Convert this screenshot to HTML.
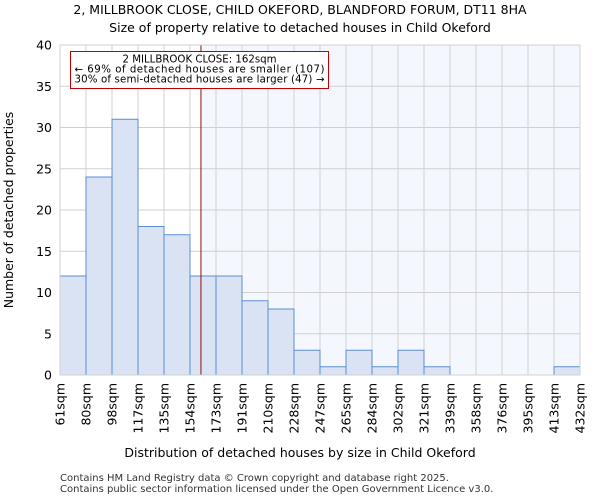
<!DOCTYPE html>
<html><head><meta charset="utf-8"><style>
body{margin:0;background:#fff;font-family:"DejaVu Sans","Liberation Sans",sans-serif}
</style></head><body>
<svg id="c" width="600" height="500" xmlns="http://www.w3.org/2000/svg" font-family="DejaVu Sans, Liberation Sans, sans-serif">
<text x="300" y="14" font-size="12.5" text-anchor="middle">2, MILLBROOK CLOSE, CHILD OKEFORD, BLANDFORD FORUM, DT11 8HA</text>
<text x="300" y="32" font-size="12.5" text-anchor="middle">Size of property relative to detached houses in Child Okeford</text>
<g id="plot"></g>
<text x="300" y="457" font-size="12.5" text-anchor="middle">Distribution of detached houses by size in Child Okeford</text>
<text transform="translate(13,210) rotate(-90)" font-size="12.5" text-anchor="middle">Number of detached properties</text>
<text x="60" y="481" font-size="10" fill="#333">Contains HM Land Registry data © Crown copyright and database right 2025.</text>
<text x="60" y="492" font-size="10" fill="#333">Contains public sector information licensed under the Open Government Licence v3.0.</text>
</svg>
<script>
const binEdges=[61,80,98,117,135,154,173,191,210,228,247,265,284,302,321,339,358,376,395,413,432];
const counts=[12,24,31,18,17,12,12,9,8,3,1,3,1,3,1,0,0,0,0,1];
const yTicks=[0,5,10,15,20,25,30,35,40];
const propertySize=162;
const NS="http://www.w3.org/2000/svg";
const L=60,R=580,T=45,B=375,ymax=40;
const g=document.getElementById('plot');
const bw=(R-L)/counts.length;
function xIdx(i){return L+i*bw;}
function xVal(v){let i=0;while(i<binEdges.length-2&&v>binEdges[i+1])i++;return xIdx(i)+bw*(v-binEdges[i])/(binEdges[i+1]-binEdges[i]);}
function y(v){return B-(B-T)*v/ymax;}
function el(t,a){const e=document.createElementNS(NS,t);for(const k in a)e.setAttribute(k,a[k]);g.appendChild(e);return e;}
const px=xVal(propertySize);
let e=el('rect',{x:px,y:T,width:R-px,height:B-T,fill:'#f4f7fd'});


binEdges.forEach((b,i)=>{const l=el('line',{x1:xIdx(i),x2:xIdx(i),y1:T,y2:B,stroke:'#d0d0d0','stroke-width':1});

});
yTicks.forEach(t=>{const l=el('line',{x1:L,x2:R,y1:y(t),y2:y(t),stroke:'#d0d0d0','stroke-width':1});


const tx=el('text',{x:L-8,y:y(t)+4.5,'font-size':12.5,'text-anchor':'end'});tx.textContent=t;

});
counts.forEach((c,i)=>{if(c<=0)return;const r=el('rect',{x:xIdx(i),y:y(c),width:bw,height:B-y(c),fill:'#dae3f3',stroke:'#5b8fd0','stroke-width':1});

});
binEdges.forEach((b,i)=>{const tx=el('text',{transform:`translate(${xIdx(i)+4.5},${B+8}) rotate(-90)`,'font-size':12.5,'text-anchor':'end'});tx.textContent=b+'sqm';

});
e=el('line',{x1:px,x2:px,y1:T,y2:B,stroke:'#8b1010','stroke-width':1});


e=el('rect',{x:70.5,y:51.5,width:258,height:37,fill:'#fff',stroke:'#c00000','stroke-width':1});


["2 MILLBROOK CLOSE: "+propertySize+"sqm","← 69% of detached houses are smaller (107)","30% of semi-detached houses are larger (47) →"].forEach((s,i)=>{const tx=el('text',{x:199.5,y:62.5+i*10,'font-size':10.2,'text-anchor':'middle','textLength':i?250:0});if(!i)tx.removeAttribute('textLength');tx.textContent=s;

});
e=el('rect',{x:L,y:T,width:R-L,height:B-T,fill:'none',stroke:'#d0d0d0'});


</script>
</body></html>
